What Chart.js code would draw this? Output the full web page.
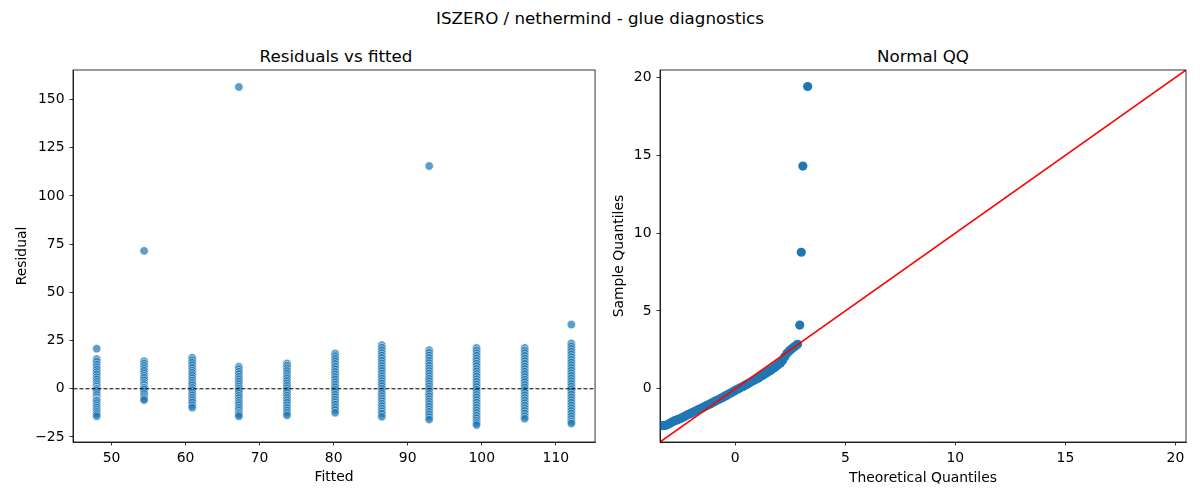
<!DOCTYPE html>
<html>
<head>
<meta charset="utf-8">
<script src="https://cdn.jsdelivr.net/npm/chart.js@4.4.1/dist/chart.umd.min.js"></script>
<style>
  body { margin: 0; background: #fff; font-family: "DejaVu Sans", sans-serif; }
  #fig { position: relative; width: 1200px; height: 500px; background: #fff; }
  .ttl { position: absolute; font-size: 16.7px; color: #000; white-space: nowrap; transform: translate(-50%, -50%); }
  .pane { position: absolute; top: 0; width: 600px; height: 500px; }
</style>
</head>
<body>
<div id="fig">
  <div class="ttl" style="left:600px; top:18px;">ISZERO / nethermind - glue diagnostics</div>
  <div class="ttl" style="left:336px; top:56px;">Residuals vs fitted</div>
  <div class="ttl" style="left:923px; top:56px;">Normal QQ</div>
  <div class="pane" style="left:0;"><canvas id="resid"></canvas></div>
  <div class="pane" style="left:600px;"><canvas id="qq"></canvas></div>
</div>
<script>
// fitted levels (one column of residuals per level)
let fitted = [48.0, 54.4, 60.9, 67.2, 73.7, 80.2, 86.5, 92.9, 99.3, 105.8, 112.1];
// residuals
let residuals = [
  [20.8, 15.4, 14.1, 12.6, 11.2, 10.0, 8.7, 7.5, 6.1, 4.9, 3.6, 2.4, 1.3, 0.2, 0.0, -0.9, -2.1, -3.2, -4.4, -5.5, -6.0, -6.3, -7.4, -8.6, -9.7, -10.9, -12.0, -13.1, -14.2],
  [71.5, 14.3, 13.1, 11.8, 10.6, 9.4, 8.1, 6.8, 5.7, 4.4, 3.1, 2.0, 0.8, 0.5, -0.4, -1.6, -2.7, -3.9, -5.0, -5.9],
  [16.1, 14.8, 13.5, 12.2, 10.9, 9.5, 8.3, 7.0, 5.6, 4.3, 3.0, 1.8, 0.5, -0.7, -2.0, -3.3, -4.6, -5.9, -7.1, -8.5, -9.8],
  [156.5, 11.4, 10.2, 8.9, 7.7, 6.3, 5.0, 3.8, 2.5, 1.2, 0.1, -1.0, -2.3, -3.6, -4.8, -6.1, -7.3, -8.5, -9.8, -11.1, -12.4, -13.3, -14.2],
  [13.1, 11.9, 10.6, 9.3, 8.0, 6.6, 5.4, 4.1, 2.8, 1.6, 0.3, -0.9, -2.2, -3.5, -4.7, -6.0, -7.2, -8.6, -9.9, -11.2, -12.5, -13.8],
  [18.3, 17.0, 15.6, 14.3, 12.9, 11.5, 10.2, 8.8, 7.5, 6.2, 4.9, 3.5, 2.2, 0.9, -0.4, -1.7, -3.0, -4.3, -5.6, -6.9, -8.2, -9.6, -10.9, -12.4],
  [22.6, 21.3, 20.0, 18.6, 17.3, 16.0, 14.6, 13.2, 11.9, 10.6, 9.3, 7.9, 6.6, 5.3, 4.0, 2.7, 1.4, 0.1, -1.2, -2.5, -3.8, -5.1, -6.4, -7.7, -9.0, -10.3, -11.6, -12.9, -14.5],
  [115.5, 20.0, 18.7, 17.3, 16.0, 14.6, 13.3, 12.0, 10.6, 9.3, 8.0, 6.6, 5.3, 4.0, 2.6, 1.3, 0.0, -1.3, -2.6, -3.9, -5.3, -6.6, -7.9, -9.2, -10.6, -11.9, -13.2, -14.6, -15.9],
  [21.2, 19.9, 18.5, 17.2, 15.8, 14.5, 13.1, 11.8, 10.4, 9.1, 7.7, 6.4, 5.0, 3.7, 2.3, 1.0, -0.4, -1.7, -3.1, -4.4, -5.8, -7.1, -8.5, -9.8, -11.2, -12.5, -13.9, -15.2, -16.5, -17.7, -18.8],
  [21.2, 19.8, 18.5, 17.1, 15.7, 14.4, 13.0, 11.6, 10.3, 8.9, 7.6, 6.2, 4.8, 3.5, 2.1, 0.8, -0.6, -1.9, -3.3, -4.7, -6.0, -7.4, -8.7, -10.1, -11.4, -12.8, -14.2, -15.5],
  [33.3, 23.5, 22.1, 20.7, 19.3, 17.9, 16.5, 15.1, 13.7, 12.3, 10.9, 9.5, 8.1, 6.8, 5.4, 4.0, 2.6, 1.2, -0.2, -1.6, -3.0, -4.4, -5.8, -7.2, -8.6, -10.0, -11.4, -12.8, -14.2, -15.6, -17.0, -18.0]
];
// normal QQ points
let theoretical = [-3.33, -3.25, -3.15, -3.05, -2.95, -2.85, -2.75, -2.65, -2.55, -2.45, -2.35, -2.25, -2.15, -2.05, -1.95, -1.85, -1.75, -1.65, -1.55, -1.45, -1.35, -1.25, -1.15, -1.05, -0.95, -0.85, -0.75, -0.65, -0.55, -0.45, -0.35, -0.25, -0.15, -0.05, 0.05, 0.15, 0.25, 0.35, 0.45, 0.55, 0.65, 0.75, 0.85, 0.95, 1.05, 1.15, 1.25, 1.35, 1.45, 1.55, 1.65, 1.75, 1.85, 1.95, 2.05, 2.15, 2.25, 2.35, 2.45, 2.55, 2.65, 2.75, 2.83, 2.93, 3.0, 3.07, 3.29];
let sample = [-2.37, -2.36, -2.35, -2.28, -2.2, -2.12, -2.05, -2.0, -1.95, -1.88, -1.82, -1.74, -1.66, -1.6, -1.53, -1.46, -1.39, -1.32, -1.26, -1.19, -1.11, -1.05, -0.98, -0.9, -0.83, -0.76, -0.69, -0.61, -0.54, -0.46, -0.39, -0.31, -0.23, -0.15, -0.07, 0.0, 0.08, 0.15, 0.23, 0.3, 0.38, 0.46, 0.54, 0.62, 0.7, 0.79, 0.87, 0.96, 1.05, 1.14, 1.23, 1.33, 1.43, 1.54, 1.66, 1.82, 2.05, 2.28, 2.43, 2.55, 2.66, 2.77, 2.86, 4.09, 8.77, 14.31, 19.42];

let residTicksX = [50, 60, 70, 80, 90, 100, 110];
let residTicksY = [-25, 0, 25, 50, 75, 100, 125, 150];
let qqTicks = [0, 5, 10, 15, 20];

const tickFont = { family: 'DejaVu Sans', size: 13.9 };

// matplotlib-like frame round the plot area
const boxPlugin = {
  id: 'box',
  afterDatasetsDraw(chart) {
    const { ctx, chartArea: a } = chart;
    ctx.save();
    ctx.strokeStyle = '#000';
    ctx.lineWidth = 0.8;
    ctx.strokeRect(a.left, a.top, a.right - a.left, a.bottom - a.top);
    ctx.restore();
  }
};

function fmt(v) {
  return v < 0 ? '\u2212' + Math.abs(v) : String(v);
}

function axis(min, max, ticks, title, horizontal, size, titlePad) {
  return {
    type: 'linear',
    min: min,
    max: max,
    afterBuildTicks: s => { s.ticks = ticks.map(v => ({ value: v })); },
    afterFit: s => { if (horizontal) s.height = size; else s.width = size; },
    grid: { drawOnChartArea: false, drawTicks: true, tickLength: 3.5, color: '#000', lineWidth: 0.8 },
    border: { display: true, color: '#000', width: 0.8 },
    ticks: { color: '#000', font: tickFont, padding: 5, maxRotation: 0, autoSkip: false, callback: v => fmt(v) },
    title: {
      display: true, text: title, color: '#000', font: tickFont,
      padding: horizontal ? { top: 0, bottom: titlePad } : { top: titlePad, bottom: 0 }
    }
  };
}

let residPoints = [];
fitted.forEach((f, i) => residuals[i].forEach(r => residPoints.push({ x: f, y: r })));

new Chart(document.getElementById('resid'), {
  type: 'scatter',
  data: {
    datasets: [
      {
        type: 'line',
        data: [{ x: 40, y: 0 }, { x: 120, y: 0 }],
        borderColor: '#000', borderWidth: 1.2, borderDash: [4, 2], pointRadius: 0
      },
      {
        data: residPoints,
        backgroundColor: 'rgba(31,119,180,0.72)',
        borderColor: 'rgba(255,255,255,0.7)',
        borderWidth: 0.75,
        pointRadius: 4.2
      }
    ]
  },
  options: {
    responsive: true,
    maintainAspectRatio: false,
    animation: false,
    layout: { padding: { top: 70, right: 0, left: 0, bottom: 0 } },
    plugins: { legend: { display: false }, tooltip: { enabled: false } },
    scales: {
      x: axis(44.8, 115.3, residTicksX, 'Fitted', true, 58, 14.7),
      y: axis(-27.6, 165.3, residTicksY, 'Residual', false, 73, 13.7)
    }
  },
  plugins: [boxPlugin]
});

new Chart(document.getElementById('qq'), {
  type: 'scatter',
  data: {
    datasets: [
      {
        type: 'line',
        data: [{ x: -5, y: -5 }, { x: 22, y: 22 }],
        borderColor: '#ff0000', borderWidth: 1.6, pointRadius: 0
      },
      {
        data: theoretical.map((t, i) => ({ x: t, y: sample[i] })),
        backgroundColor: '#1f77b4',
        borderColor: '#1f77b4',
        borderWidth: 0,
        pointRadius: 4.6
      }
    ]
  },
  options: {
    responsive: true,
    maintainAspectRatio: false,
    animation: false,
    layout: { padding: { top: 70, right: 14, left: 0, bottom: 0 } },
    plugins: { legend: { display: false }, tooltip: { enabled: false } },
    scales: {
      x: axis(-3.42, 20.48, qqTicks, 'Theoretical Quantiles', true, 58, 13.7),
      y: axis(-3.42, 20.48, qqTicks, 'Sample Quantiles', false, 60, 10.7)
    }
  },
  plugins: [boxPlugin]
});
</script>
</body>
</html>
